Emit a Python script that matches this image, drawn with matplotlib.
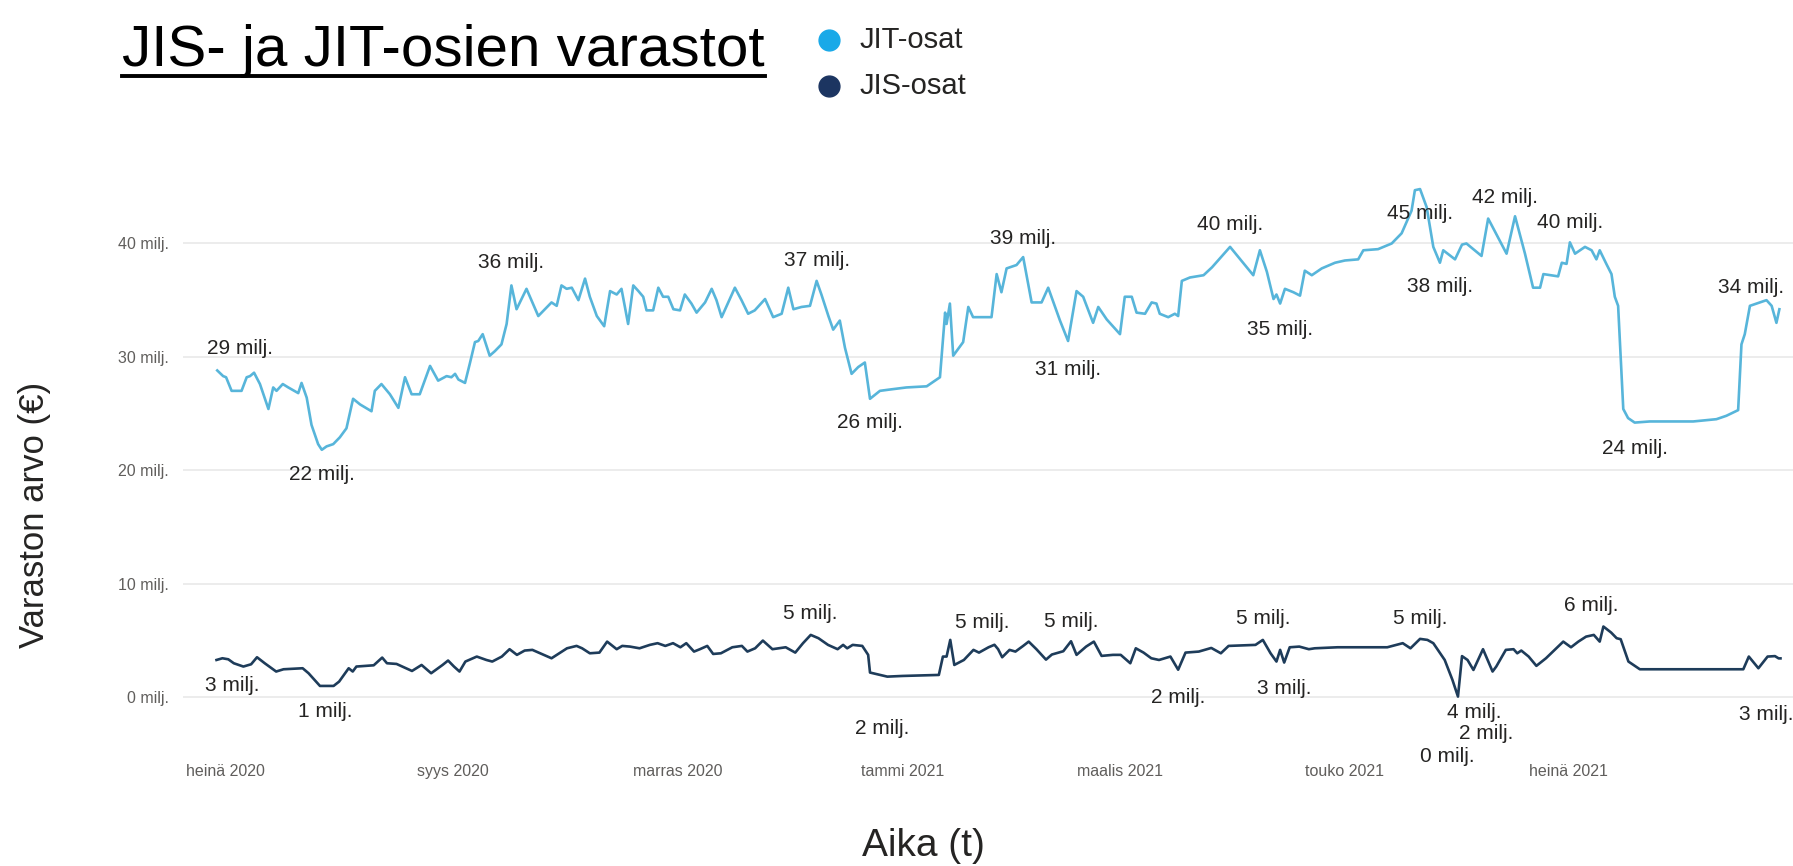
import datetime as dt
import numpy as np
import matplotlib
matplotlib.use("Agg")
import matplotlib.pyplot as plt
import matplotlib.dates as mdates
from matplotlib.lines import Line2D

plt.rcParams['font.family'] = ['Liberation Sans', 'DejaVu Sans']

# day offsets from 1.7.2020 and stock value (milj. EUR)
base = dt.date(2020, 7, 1)

jit_days = [-2.1, -0.5, 0.3, 1.8, 4.5, 5.9, 6.8, 7.9, 9.5, 11.8, 13.1, 14.0, 15.7, 17.2, 19.9, 20.8,
            22.2, 23.5, 25.3, 26.3, 27.6, 29.4, 31.2, 33.0, 34.8, 36.7, 39.8, 40.7, 42.5, 44.8, 47.1,
            48.9, 50.7, 52.9, 55.7, 57.9, 60.2, 61.5, 62.5, 63.4, 65.2, 66.5, 67.9, 68.8, 70.0, 71.9,
            73.3, 75.1, 76.5, 77.8, 79.2, 81.9, 85.1, 86.9, 88.7, 90.1, 91.4, 92.8, 94.2, 96.0, 97.8,
            99.1, 101.0, 103.0, 104.6, 106.4, 107.7, 109.5, 110.9, 112.3, 113.6, 114.5, 116.3, 117.7,
            119.0, 120.4, 121.8, 123.6, 124.9, 126.7, 128.1, 130.4, 132.2, 133.5, 134.9, 136.7, 138.5,
            140.3, 142.1, 143.9, 146.7, 148.9, 151.2, 153.0, 154.4, 156.6, 158.9, 160.7, 162.0, 163.9,
            165.2, 167.0, 168.4, 170.2, 172.0, 173.8, 175.2, 177.9, 180.2, 185.1, 190.6, 194.2, 195.6,
            196.0, 196.9, 197.8, 200.5, 201.9, 203.2, 208.2, 209.6, 210.9, 212.3, 215.0, 216.8, 219.1,
            221.8, 223.6, 226.8, 229.0, 231.3, 233.1, 235.8, 237.2, 239.5, 243.1, 244.4, 246.3, 247.6,
            249.9, 251.7, 253.0, 253.9, 256.2, 258.0, 258.9, 259.9, 262.1, 265.8, 268.1, 273.0, 279.3,
            281.1, 283.0, 284.8, 285.6, 286.6, 287.9, 290.2, 292.0, 293.3, 295.2, 297.9, 301.5, 304.2,
            307.8, 309.2, 313.2, 316.9, 319.6, 322.3, 323.2, 324.6, 326.4, 328.2, 330.0, 330.9, 334.1,
            336.0, 337.2, 341.3, 343.1, 348.1, 350.4, 353.1, 355.3, 357.2, 358.1, 362.1, 363.1, 364.4,
            365.3, 366.7, 369.4, 371.2, 372.5, 373.4, 375.2, 376.6, 377.5, 378.4, 379.8, 381.1, 382.9,
            387.0, 398.8, 405.1, 407.8, 411.0, 411.9, 412.8, 414.2, 416.0, 418.7, 420.1, 421.4, 422.2]
jit_vals = [28.8, 28.3, 28.2, 27.0, 27.0, 28.2, 28.3, 28.6, 27.6, 25.4, 27.3, 27.0, 27.6, 27.3, 26.8, 27.7,
            26.4, 24.0, 22.3, 21.8, 22.1, 22.3, 22.9, 23.7, 26.3, 25.8, 25.2, 27.0, 27.6, 26.7, 25.5,
            28.2, 26.7, 26.7, 29.2, 27.9, 28.3, 28.2, 28.5, 28.0, 27.7, 29.4, 31.3, 31.4, 32.0, 30.1,
            30.5, 31.1, 32.9, 36.3, 34.2, 36.0, 33.6, 34.2, 34.8, 34.5, 36.3, 36.0, 36.1, 35.0, 36.9,
            35.3, 33.6, 32.7, 35.8, 35.5, 36.0, 32.9, 36.3, 35.8, 35.3, 34.1, 34.1, 36.1,
            35.3, 35.3, 34.2, 34.1, 35.5, 34.7, 33.9, 34.8, 36.0, 35.0, 33.5, 34.8, 36.1,
            35.0, 33.8, 34.1, 35.1, 33.5, 33.8, 36.1, 34.2, 34.4, 34.5, 36.7, 35.5, 33.6,
            32.4, 33.2, 30.8, 28.5, 29.1, 29.5, 26.3, 27.0, 27.1, 27.3, 27.4, 28.2, 33.9,
            32.9, 34.7, 30.1, 31.3, 34.4, 33.5, 33.5, 37.3, 35.7, 37.8, 38.1, 38.8, 34.8,
            34.8, 36.1, 33.2, 31.4, 35.8, 35.3, 33.0, 34.4, 33.3, 32.0, 35.3, 35.3, 33.9,
            33.8, 34.8, 34.7, 33.8, 33.5, 33.8, 33.6, 36.7, 37.0, 37.2, 37.9, 39.7, 37.2,
            39.4, 37.5, 35.1, 35.5, 34.7, 36.0, 35.7, 35.4, 37.6, 37.2, 37.8, 38.3, 38.5,
            38.6, 39.4, 39.5, 40.0, 40.9, 42.9, 44.7, 44.8, 43.2, 39.7, 38.3, 39.4, 38.6,
            39.9, 40.0, 38.9, 42.2, 39.1, 42.4, 39.1, 36.1, 36.1, 37.3, 37.1, 38.3, 38.2,
            40.1, 39.1, 39.7, 39.4, 38.6, 39.4, 38.2, 37.3, 35.3, 34.5, 25.4, 24.6, 24.2,
            24.3, 24.3, 24.5, 24.8, 25.3, 31.1, 32.0, 34.5, 34.7, 35.0, 34.5, 33.0, 34.2]

jis_days = [-2.3, -0.7, 0.9, 2.4, 5.0, 7.1, 8.7, 10.8, 13.9, 15.9, 21.1, 22.7, 25.8, 29.5, 31.0, 33.6,
            34.7, 35.7, 40.4, 42.7, 44.0, 46.6, 50.8, 53.4, 56.0, 59.1, 60.6, 62.2, 63.7, 65.3, 68.4,
            71.0, 72.6, 75.2, 77.3, 79.3, 81.4, 83.5, 85.6, 88.7, 90.8, 92.9, 95.5, 97.0, 99.1, 101.7,
            103.8, 106.4, 107.9, 110.0, 112.6, 115.4, 117.5, 119.6, 121.7, 123.7, 125.3, 127.4, 129.0,
            131.0, 132.6, 134.7, 137.8, 140.4, 141.9, 144.0, 146.1, 148.7, 152.3, 154.9, 157.0, 159.1,
            161.2, 163.8, 166.4, 167.9, 169.0, 170.5, 173.1, 174.7, 175.2, 179.9, 184.0, 193.9, 195.0,
            196.0, 197.0, 198.1, 200.7, 203.3, 204.8, 207.4, 209.0, 210.0, 211.1, 213.1, 214.7, 216.8,
            218.3, 220.4, 223.0, 224.6, 227.7, 229.8, 231.3, 233.9, 236.0, 238.1, 241.2, 243.3, 245.9,
            247.4, 249.5, 251.6, 253.7, 256.8, 258.9, 260.9, 264.5, 267.9, 270.5, 272.6, 279.9, 281.9,
            284.0, 285.6, 286.6, 287.7, 289.2, 291.8, 294.4, 296.0, 302.2, 315.7, 319.9, 322.0, 324.6,
            326.6, 328.2, 331.3, 333.4, 334.9, 336.0, 337.5, 339.1, 341.7, 344.3, 345.3, 347.9, 350.0,
            351.0, 352.1, 354.1, 356.2, 358.8, 363.5, 365.6, 367.6, 369.7, 371.8, 373.4, 374.4, 376.5,
            378.0, 379.1, 381.2, 384.3, 389.5, 412.4, 413.9, 416.5, 419.0, 421.0, 422.0, 422.5]
jis_vals = [3.26, 3.41, 3.32, 2.97, 2.68, 2.88, 3.5, 2.97, 2.24, 2.44, 2.53, 2.09, 0.97, 0.97, 1.35, 2.53,
            2.24, 2.68, 2.79, 3.47, 2.97, 2.91, 2.29, 2.82, 2.09, 2.82, 3.21, 2.68, 2.24, 3.12, 3.56,
            3.26, 3.12, 3.56, 4.21, 3.71, 4.09, 4.15, 3.85, 3.41, 3.85, 4.29, 4.5, 4.29, 3.85, 3.91,
            4.88, 4.21, 4.5, 4.44, 4.29, 4.59, 4.74, 4.5, 4.74, 4.38, 4.74, 4.0, 4.21,
            4.5, 3.79, 3.85, 4.38, 4.5, 4.0, 4.29, 4.97, 4.21, 4.38, 3.91, 4.74, 5.47,
            5.18, 4.59, 4.21, 4.59, 4.29, 4.59, 4.5, 3.71, 2.15, 1.79, 1.85, 1.94, 3.56,
            3.56, 5.03, 2.82, 3.26, 4.15, 3.91, 4.38, 4.6, 4.21, 3.5, 4.15, 4.0, 4.5,
            4.88, 4.21, 3.29, 3.74, 4.03, 4.91, 3.71, 4.44, 4.88, 3.62, 3.71, 3.71, 2.97,
            4.29, 3.91, 3.41, 3.26, 3.56, 2.4, 3.91, 4.0, 4.32, 3.85, 4.5, 4.59, 5.03,
            3.85, 3.12, 4.15, 3.03, 4.38, 4.44, 4.21, 4.29, 4.38, 4.38, 4.74, 4.29, 5.12,
            5.03, 4.74, 3.26, 1.5, 0.03, 3.6, 3.26, 2.38, 4.21, 2.24, 2.68, 4.15, 4.21,
            3.85, 4.09, 3.56, 2.74, 3.41, 4.88, 4.38, 4.88, 5.32, 5.47, 4.88, 6.21, 5.68,
            5.18, 5.09, 3.12, 2.44, 2.44, 2.44, 3.56, 2.53, 3.56, 3.6, 3.4, 3.4]

# points that carry a value label, and where the label sits (pixels right / down)
jit_label_days = [-2.1, 26.3, 77.8, 160.7, 175.2, 216.8, 229.0, 273.0, 286.6, 324.6, 330.0, 350.4,
                  365.3, 382.9, 422.2]
jit_label_offsets = [(23, -22), (0, 25), (0, -23), (0, -20), (0, 24), (0, -19), (0, 29), (0, -22),
                     (0, 26), (0, 24), (0, 24), (-10, -19), (0, -20), (0, 26), (-28, -22)]
jis_label_days = [-2.3, 25.8, 159.1, 179.9, 209.0, 229.8, 258.9, 281.9, 287.7, 324.6, 334.9, 336.0,
                  344.3, 374.4, 422.5]
jis_label_offsets = [(16, 26), (5, 26), (0, -21), (-5, 52), (-12, -22), (0, -20), (0, 28), (0, -21),
                     (0, 26), (0, -20), (-11, 60), (12, 56), (-6, 62), (-12, -21), (-14, 56)]

tick_months = [(2020, 7), (2020, 9), (2020, 11), (2021, 1), (2021, 3), (2021, 5), (2021, 7)]
tick_labels = ['heinä 2020', 'syys 2020', 'marras 2020', 'tammi 2021', 'maalis 2021', 'touko 2021', 'heinä 2021']
y_ticks = [0, 10, 20, 30, 40]

JIT_COLOR = '#57B5DA'
JIS_COLOR = '#1E3C5A'
TEXT_DARK = '#252423'
TEXT_GRAY = '#605E5C'

W, H = 1793, 866
fig = plt.figure(figsize=(W / 100, H / 100), dpi=100)
ax = fig.add_axes([183 / W, 1 - 740 / H, 1 - 183 / W, (740 - 180) / H])

t0 = mdates.date2num(base)
jit_x = t0 + np.array(jit_days)
jis_x = t0 + np.array(jis_days)

ax.plot(jit_x, jit_vals, color=JIT_COLOR, lw=1.9, solid_joinstyle='round')
ax.plot(jis_x, jis_vals, color=JIS_COLOR, lw=1.9, solid_joinstyle='round')


def add_labels(xs, vals, days, label_days, offsets):
	days = np.array(days)
	for d, (dx, dy) in zip(label_days, offsets):
		i = int(np.argmin(np.abs(days - d)))
		v = vals[i]
		ax.annotate(f"{int(round(v))} milj.", xy=(xs[i], v), xytext=(dx, -dy),
					textcoords='offset pixels', ha='center', va='center',
					fontsize=15, color=TEXT_DARK)


add_labels(jit_x, jit_vals, jit_days, jit_label_days, jit_label_offsets)
add_labels(jis_x, jis_vals, jis_days, jis_label_days, jis_label_offsets)

ax.set_xlim(t0 - 11.4, t0 + 425.9)
ax.set_ylim(-3.8, 45.6)

ax.set_xticks([mdates.date2num(dt.date(y, m, 1)) for y, m in tick_months])
ax.set_xticklabels(tick_labels)
ax.set_yticks(y_ticks)
ax.set_yticklabels([f"{v} milj." for v in y_ticks])
ax.tick_params(axis='x', length=0, pad=17, labelsize=11.5, labelcolor=TEXT_GRAY)
ax.tick_params(axis='y', length=0, pad=10, labelsize=11.5, labelcolor=TEXT_GRAY)

for s in ax.spines.values():
	s.set_visible(False)
ax.yaxis.grid(True, color='#EBEBEB', lw=1.3)
ax.set_axisbelow(True)

# axis titles
fig.text(35 / W, 1 - 515 / H, 'Varaston arvo (€)', rotation=90, ha='center', va='center',
		 fontsize=25, color=TEXT_DARK)
fig.text(923 / W, 1 - 846 / H, 'Aika (t)', ha='center', va='center', fontsize=28, color=TEXT_DARK)

# legend
for yy, col, name in [(40, '#19A9E8', 'JIT-osat'), (86, '#1C3561', 'JIS-osat')]:
	fig.add_artist(Line2D([829 / W], [1 - yy / H], marker='o', markersize=15, color=col,
						  transform=fig.transFigure))
	fig.text(860 / W, 1 - yy / H, name, ha='left', va='center', fontsize=21, color=TEXT_DARK)

# underlined title
title = fig.text(122 / W, 1 - 66 / H, 'JIS- ja JIT-osien varastot', ha='left', va='baseline',
				 fontsize=42, color='black')
fig.canvas.draw()
bb = title.get_window_extent()
fig.add_artist(Line2D([bb.x0 / W, bb.x1 / W], [1 - 76 / H, 1 - 76 / H], color='black', lw=2.8,
					  transform=fig.transFigure))

fig.savefig('out.png', dpi=100)
